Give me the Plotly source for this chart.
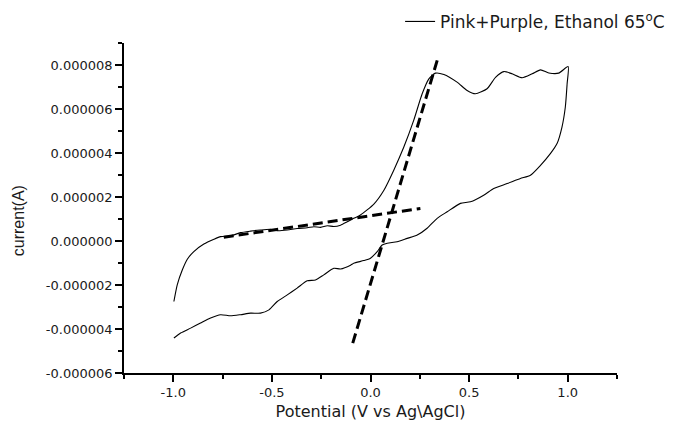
import plotly.graph_objects as go

# ---- data ----
potential_V = [
    -0.997, -0.980, -0.954, -0.929, -0.896, -0.845, -0.794, -0.760, -0.710, -0.659,
    -0.608, -0.558, -0.507, -0.473, -0.422, -0.372, -0.321, -0.287, -0.253, -0.219,
    -0.186, -0.152, -0.118, -0.085, -0.051, 0.017, 0.068, 0.118, 0.169, 0.219,
    0.262, 0.296, 0.329, 0.372, 0.439, 0.490, 0.532, 0.591, 0.634, 0.676,
    0.718, 0.769, 0.820, 0.862, 0.904, 0.954, 1.002,
    0.997, 0.988, 0.971, 0.946, 0.912, 0.862, 0.811, 0.760, 0.693, 0.625,
    0.574, 0.507, 0.456, 0.389, 0.338, 0.287, 0.237, 0.186, 0.135, 0.085,
    0.059, 0.034, 0.000, -0.034, -0.085, -0.101, -0.152, -0.186, -0.237, -0.279,
    -0.321, -0.372, -0.422, -0.473, -0.515, -0.558, -0.608, -0.659, -0.710, -0.760,
    -0.811, -0.862, -0.912, -0.963, -0.997,
]
current_A = [
    -2.75e-6, -1.99e-6, -1.31e-6, -0.83e-6, -0.48e-6, -0.14e-6, 0.08e-6, 0.20e-6, 0.23e-6, 0.38e-6,
    0.45e-6, 0.50e-6, 0.53e-6, 0.47e-6, 0.50e-6, 0.57e-6, 0.60e-6, 0.65e-6, 0.62e-6, 0.69e-6,
    0.66e-6, 0.72e-6, 0.87e-6, 1.03e-6, 1.18e-6, 1.68e-6, 2.31e-6, 3.22e-6, 4.27e-6, 5.48e-6,
    6.69e-6, 7.37e-6, 7.63e-6, 7.57e-6, 7.22e-6, 6.84e-6, 6.69e-6, 6.92e-6, 7.44e-6, 7.70e-6,
    7.60e-6, 7.42e-6, 7.60e-6, 7.78e-6, 7.64e-6, 7.63e-6, 7.93e-6,
    7.14e-6, 6.09e-6, 5.18e-6, 4.43e-6, 3.97e-6, 3.44e-6, 2.99e-6, 2.84e-6, 2.61e-6, 2.39e-6,
    2.08e-6, 1.78e-6, 1.71e-6, 1.33e-6, 1.03e-6, 0.58e-6, 0.27e-6, 0.12e-6, -0.03e-6, -0.10e-6,
    -0.18e-6, -0.48e-6, -0.78e-6, -0.89e-6, -1.01e-6, -1.10e-6, -1.27e-6, -1.24e-6, -1.54e-6, -1.77e-6,
    -1.81e-6, -2.14e-6, -2.45e-6, -2.75e-6, -3.13e-6, -3.28e-6, -3.28e-6, -3.35e-6, -3.40e-6, -3.35e-6,
    -3.50e-6, -3.73e-6, -3.96e-6, -4.18e-6, -4.41e-6,
]

# tangent (onset) construction lines
baseline_x = [-0.744, 0.253]
baseline_y = [0.17e-6, 1.48e-6]
rise_x = [-0.090, 0.343]
rise_y = [-4.64e-6, 8.35e-6]

series_name = "Pink+Purple, Ethanol 65<sup>o</sup>C"

x_tickvals = [-1.0, -0.5, 0.0, 0.5, 1.0]
x_ticktext = ["-1.0", "-0.5", "0.0", "0.5", "1.0"]
y_tickvals = [-6e-6, -4e-6, -2e-6, 0, 2e-6, 4e-6, 6e-6, 8e-6]
y_ticktext = ["-0.000006", "-0.000004", "-0.000002", "0.000000",
              "0.000002", "0.000004", "0.000006", "0.000008"]

TICKFONT = dict(family="DejaVu Sans", size=13, color="#1a1a1a")

fig = go.Figure()
fig.add_trace(go.Scatter(
    x=potential_V, y=current_A, mode="lines", name=series_name,
    line=dict(color="black", width=1.1, shape="spline", smoothing=0.6),
))
fig.add_trace(go.Scatter(
    x=baseline_x, y=baseline_y, mode="lines", showlegend=False,
    line=dict(color="black", width=3, dash="10px,5px"),
))
fig.add_trace(go.Scatter(
    x=rise_x, y=rise_y, mode="lines", showlegend=False,
    line=dict(color="black", width=3, dash="10px,5px"),
))

axis_common = dict(
    showline=True, linecolor="black", linewidth=1.6, mirror=False,
    showgrid=False, zeroline=False, automargin=False,
    ticks="outside", ticklen=7, tickwidth=1.6, tickcolor="black",
    tickfont=TICKFONT,
)

# the page body adds an 8px offset, so the figure is sized to fill the rest of the window
fig.update_layout(
    width=669, height=417,
    margin=dict(l=116, r=60, t=35, b=52, autoexpand=False),
    paper_bgcolor="white", plot_bgcolor="white",
    xaxis=dict(
        range=[-1.25, 1.25], tickmode="array", tickvals=x_tickvals, ticktext=x_ticktext,
        minor=dict(tickmode="linear", tick0=-1.25, dtick=0.25, ticklen=4, tickwidth=1.6,
                   tickcolor="black", ticks="outside"),
        title=dict(text="Potential (V vs Ag\\AgCl)",
                   font=dict(family="DejaVu Sans", size=16, color="#1a1a1a"), standoff=6),
        **axis_common,
    ),
    yaxis=dict(
        range=[-6e-6, 9e-6], tickmode="array", tickvals=y_tickvals, ticktext=y_ticktext,
        minor=dict(tickmode="linear", tick0=-6e-6, dtick=1e-6, ticklen=4, tickwidth=1.6,
                   tickcolor="black", ticks="outside"),
        **axis_common,
    ),
    showlegend=True,
    legend=dict(x=0.560, y=1.064, xanchor="left", yanchor="middle",
                bgcolor="rgba(0,0,0,0)",
                font=dict(family="DejaVu Sans", size=17, color="#1a1a1a")),
    annotations=[dict(
        text="current(A)", textangle=-90, xref="paper", yref="paper",
        x=-0.215, y=0.46, xanchor="center", yanchor="middle", showarrow=False,
        font=dict(family="Liberation Sans", size=16, color="#1a1a1a"),
    )],
)

fig.write_html("out.html")
